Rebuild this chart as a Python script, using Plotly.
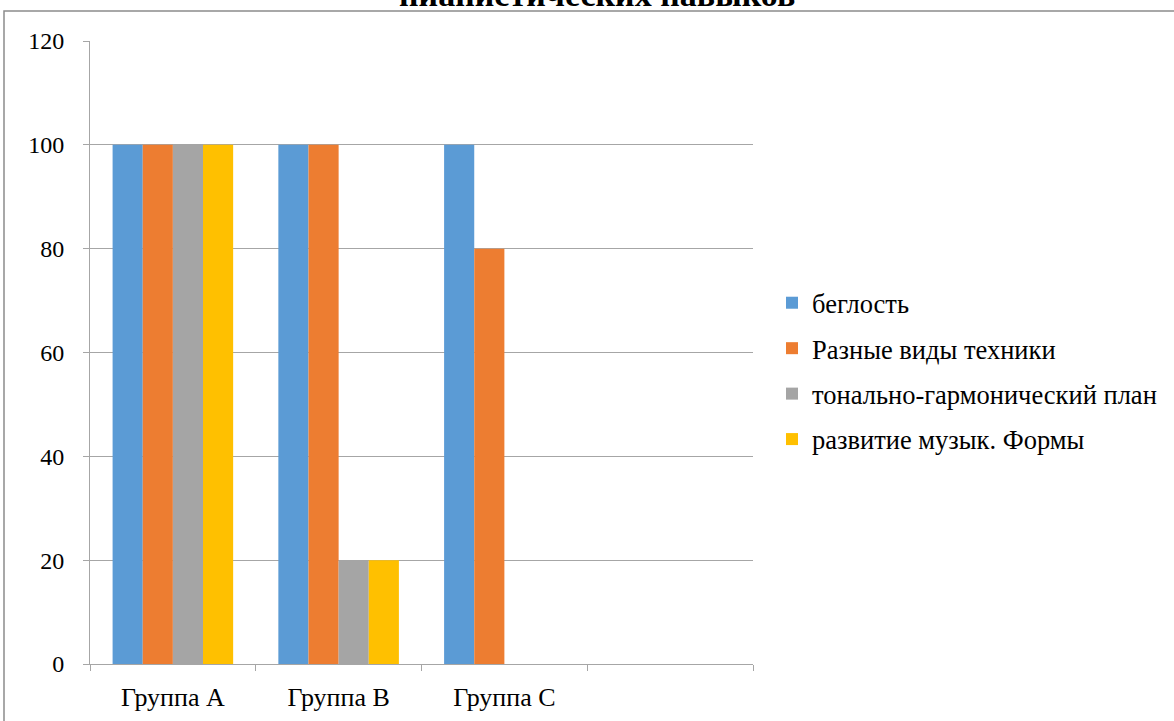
import plotly.graph_objects as go

categories = ["Группа A", "Группа B", "Группа C", " "]
series_names = ["беглость", "Разные виды техники", "тонально-гармонический план", "развитие музык. Формы"]
values_beglost = [100, 100, 100, None]
values_tehnika = [100, 100, 80, None]
values_tonal = [100, 20, None, None]
values_forma = [100, 20, None, None]
colors = ["#5b9bd5", "#ed7d31", "#a5a5a5", "#ffc000"]
y_ticks = [0, 20, 40, 60, 80, 100, 120]
title_text = "<b>пианистических навыков</b>"

W, H = 1174, 721
L, R, T, B = 90, 421, 41, 57
ph = H - T - B
pw = W - L - R

fig = go.Figure()
for i, (name, vals) in enumerate(zip(series_names, [values_beglost, values_tehnika, values_tonal, values_forma])):
    fig.add_trace(go.Bar(x=categories, y=vals, name=name, marker=dict(color=colors[i], line=dict(width=0)),
                         legendgroup=str(i)))

font_family = "Liberation Serif"

fig.update_layout(
    width=W, height=H,
    margin=dict(l=L, r=R, t=T, b=B, autoexpand=False),
    paper_bgcolor="white", plot_bgcolor="white",
    barmode="group", bargap=0.2727, bargroupgap=0,
    font=dict(family=font_family, size=24, color="black"),
    showlegend=True,
    legend=dict(x=(812 - 40 - L) / pw, xanchor="left", y=1 + (T - 279) / ph, yanchor="top",
                font=dict(family=font_family, size=26.5, color="black"),
                tracegroupgap=8, bgcolor="rgba(0,0,0,0)"),
    xaxis=dict(type="category", categoryorder="array", categoryarray=categories,
               range=[-0.5, 3.5], showline=True, linecolor="#a6a6a6", linewidth=1,
               ticks="outside", ticklen=6, tickcolor="#a6a6a6", tickson="boundaries",
               showgrid=False, ticklabelstandoff=10,
               tickfont=dict(family=font_family, size=26, color="black")),
    yaxis=dict(range=[0, 120], tickvals=y_ticks, showline=True, linecolor="#a6a6a6", linewidth=1,
               ticks="outside", ticklen=6, tickcolor="#a6a6a6", showgrid=True, gridcolor="#a6a6a6",
               gridwidth=1, zeroline=False, ticklabelstandoff=14,
               tickfont=dict(family=font_family, size=24, color="black")),
)

fig.add_annotation(text=title_text, xref="paper", yref="paper",
                   x=(597 - L) / pw, xanchor="center",
                   y=1 + (T - 15) / ph, yanchor="bottom", showarrow=False,
                   font=dict(family=font_family, size=34, color="black"))

fig.add_shape(type="rect", xref="paper", yref="paper",
              x0=(4 - L) / pw, x1=(1190 - L) / pw,
              y0=-(740 - (H - B)) / ph, y1=1 + (T - 11) / ph,
              line=dict(color="#8c8c8c", width=1.5), fillcolor="rgba(0,0,0,0)", layer="below")

fig.write_html("out.html", config={"displayModeBar": False},
               post_script="document.body.style.margin='0px';document.body.style.overflow='hidden';")
